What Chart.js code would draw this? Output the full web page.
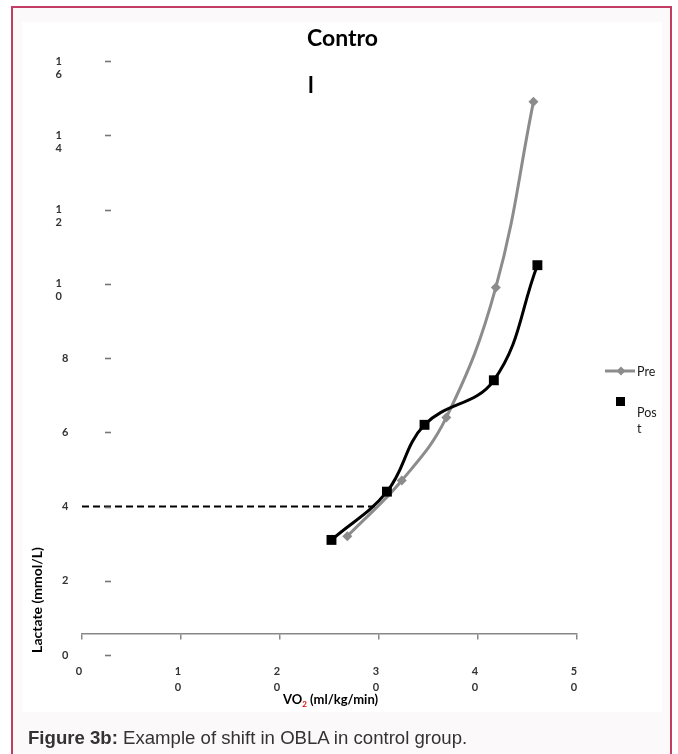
<!DOCTYPE html>
<html>
<head>
<meta charset="utf-8">
<title>Figure 3b</title>
<script src="https://cdn.jsdelivr.net/npm/chart.js@4.4.1/dist/chart.umd.min.js"></script>
<style>
  html, body { margin: 0; padding: 0; width: 678px; height: 754px; overflow: hidden; background: #fff; }
  #frame { position: absolute; left: 11px; top: 6px; width: 657px; height: 800px; border: 2px solid #c23c63; border-bottom: none; background: #fcf9fa; }
  #panel { position: absolute; left: 22px; top: 22px; width: 640px; height: 690px; background: #fff; }
  #wrap { position: absolute; left: 0; top: 0; width: 678px; height: 754px; }
  #caption { position: absolute; left: 28px; top: 728px; font: 18.6px "Liberation Sans", Arial, sans-serif; line-height: 20px; color: #333; white-space: nowrap; }
</style>
</head>
<body>
<div id="frame"></div>
<div id="panel"></div>
<div id="wrap"><canvas id="chart"></canvas></div>
<div id="caption"><b>Figure 3b:</b> Example of shift in OBLA in control group.</div>

<script>
// --- data ---
const titleLines = ["Contro", "l"];
const seriesNames = ["Pre", "Post"];

const preVO2 = [26.8, 32.3, 36.8, 41.8, 45.6];
const preLactate = [3.2, 4.7, 6.4, 9.9, 14.9];

const postVO2 = [25.2, 30.8, 34.6, 41.6, 46.0];
const postLactate = [3.1, 4.4, 6.2, 7.4, 10.5];

// OBLA reference (4 mmol/L)
const oblaVO2 = [0, 30];
const oblaLactate = [4, 4];

const xTicks = [0, 10, 20, 30, 40, 50];
const xTickLabels = ["0", ["1", "0"], ["2", "0"], ["3", "0"], ["4", "0"], ["5", "0"]];
const yTicks = [0, 2, 4, 6, 8, 10, 12, 14, 16];
const yTickLabels = ["0", "2", "4", "6", "8", ["1", "0"], ["1", "2"], ["1", "4"], ["1", "6"]];

const xTitle = ["VO", "2", " (ml/kg/min)"];
const yTitle = "Lactate (mmol/L)";

const toPoints = (xs, ys) => xs.map((x, i) => ({ x: x, y: ys[i] }));

// y tick dashes, title, legend and axis titles drawn on top
const extras = {
  id: "extras",
  afterDraw(chart) {
    const ctx = chart.ctx;
    const ys = chart.scales.y;
    ctx.save();

    // short dashes next to the y labels
    ctx.strokeStyle = "#777";
    ctx.lineWidth = 1.6;
    yTicks.forEach(v => {
      const py = Math.round(ys.getPixelForValue(v)) + 0.5;
      ctx.beginPath();
      ctx.moveTo(105, py);
      ctx.lineTo(111, py);
      ctx.stroke();
    });

    ctx.fillStyle = "#000";
    ctx.textAlign = "left";
    ctx.textBaseline = "alphabetic";
    ctx.font = "bold 23px Lato";
    ctx.fillText(titleLines[0], 307, 46);
    ctx.fillText(titleLines[1], 308, 93);

    // legend
    ctx.strokeStyle = "#8c8c8c";
    ctx.lineWidth = 3;
    ctx.beginPath();
    ctx.moveTo(605, 371);
    ctx.lineTo(635, 371);
    ctx.stroke();
    ctx.fillStyle = "#8c8c8c";
    ctx.beginPath();
    ctx.moveTo(621, 366.5); ctx.lineTo(625.5, 371); ctx.lineTo(621, 375.5); ctx.lineTo(616.5, 371);
    ctx.closePath();
    ctx.fill();
    ctx.fillStyle = "#000";
    ctx.fillRect(616, 397, 9, 9);
    ctx.fillStyle = "#1a1a1a";
    ctx.font = "12.5px Lato";
    ctx.textBaseline = "middle";
    ctx.fillText(seriesNames[0], 637, 372);
    ctx.fillText(seriesNames[1].slice(0, 3), 637, 413);
    ctx.fillText(seriesNames[1].slice(3), 637, 429);

    // x title with red subscript
    ctx.textBaseline = "alphabetic";
    let x = 283;
    ctx.font = "bold 13px Lato";
    ctx.fillStyle = "#000";
    ctx.fillText(xTitle[0], x, 704);
    x += ctx.measureText(xTitle[0]).width;
    ctx.font = "bold 8px Lato";
    ctx.fillStyle = "#e00000";
    ctx.fillText(xTitle[1], x, 707);
    x += ctx.measureText(xTitle[1]).width;
    ctx.font = "bold 13px Lato";
    ctx.fillStyle = "#000";
    ctx.fillText(xTitle[2], x, 704);

    // y title
    ctx.translate(37, 600);
    ctx.rotate(-Math.PI / 2);
    ctx.textAlign = "center";
    ctx.textBaseline = "middle";
    ctx.font = "bold 14px Lato";
    ctx.fillText(yTitle, 0, 0);
    ctx.restore();
  }
};

new Chart(document.getElementById("chart"), {
  type: "line",
  data: {
    datasets: [
      {
        label: seriesNames[0],
        data: toPoints(preVO2, preLactate),
        borderColor: "#8c8c8c",
        backgroundColor: "#8c8c8c",
        borderWidth: 3,
        tension: 0.4,
        pointStyle: "rectRot",
        pointRadius: 5,
        pointBorderWidth: 0,
        order: 2
      },
      {
        label: seriesNames[1],
        data: toPoints(postVO2, postLactate),
        borderColor: "#000",
        backgroundColor: "#000",
        borderWidth: 3,
        tension: 0.4,
        pointStyle: "rect",
        pointRadius: 7,
        pointBorderWidth: 0,
        order: 1
      },
      {
        label: "OBLA",
        data: toPoints(oblaVO2, oblaLactate),
        borderColor: "#000",
        borderWidth: 2,
        borderDash: [7, 4],
        pointRadius: 0,
        order: 3
      }
    ]
  },
  options: {
    animation: false,
    responsive: true,
    maintainAspectRatio: false,
    layout: { padding: { left: 82, right: 101, top: 61, bottom: 99 } },
    plugins: { legend: { display: false }, title: { display: false }, tooltip: { enabled: false } },
    scales: {
      x: {
        type: "linear",
        position: { y: 0.57 },
        min: 0, max: 50,
        afterBuildTicks: s => { s.ticks = xTicks.map(v => ({ value: v })); },
        border: { display: true, color: "#888", width: 1.5 },
        grid: { drawOnChartArea: false, drawTicks: true, tickLength: 5, color: "#888", lineWidth: 1.5 },
        ticks: {
          callback: (v, i) => xTickLabels[i],
          font: { family: "Lato", size: 11, weight: "bold", lineHeight: 1.45 },
          color: "#333",
          padding: 25,
          labelOffset: -3,
          maxRotation: 0,
          autoSkip: false
        }
      },
      y: {
        type: "linear",
        position: { x: 2.93 },
        min: 0, max: 16,
        afterBuildTicks: s => { s.ticks = yTicks.map(v => ({ value: v })); },
        border: { display: false },
        grid: { display: false },
        ticks: { display: false }
      },
      yl: {
        type: "linear",
        position: { x: -1.38 },
        min: 0, max: 16,
        afterBuildTicks: s => { s.ticks = yTicks.map(v => ({ value: v })); },
        border: { display: false },
        grid: { display: false, drawTicks: false },
        ticks: {
          callback: (v, i) => {
            const lab = yTickLabels[i];
            return Array.isArray(lab) ? [""].concat(lab.map(t => t + "\u2007")) : lab;
          },
          font: { family: "Lato", size: 11, weight: "bold", lineHeight: 1.18 },
          color: "#333",
          padding: 0,
          autoSkip: false
        }
      }
    }
  },
  plugins: [extras]
});
</script>
</body>
</html>
